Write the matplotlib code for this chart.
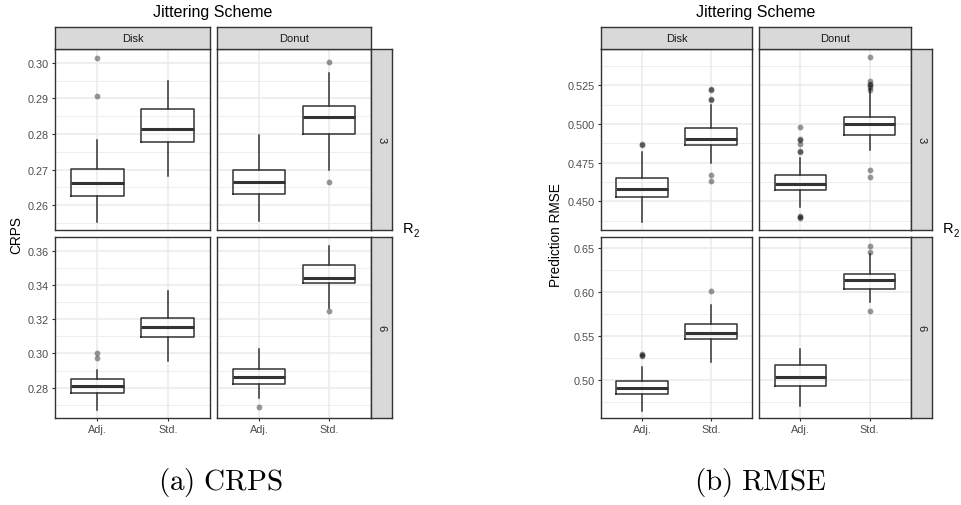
import matplotlib
matplotlib.use("Agg")
import matplotlib.pyplot as plt

plt.rcParams['font.family'] = ['Liberation Sans', 'DejaVu Sans']
plt.rcParams['mathtext.fontset'] = 'cm'

W, H = 962, 506

schemes = ["Disk", "Donut"]
r2_levels = ["3", "6"]
methods = ["Adj.", "Std."]

# box summaries: (whislo, q1, med, q3, whishi)
crps_stats = {
    ("3", "Disk"): [(0.2553, 0.2626, 0.2661, 0.2701, 0.2784), (0.2682, 0.2777, 0.2813, 0.2870, 0.2949)],
    ("3", "Donut"): [(0.2556, 0.2630, 0.2666, 0.2700, 0.2797), (0.2700, 0.2800, 0.2848, 0.2880, 0.2972)],
    ("6", "Disk"): [(0.2668, 0.2769, 0.2810, 0.2851, 0.2903), (0.2957, 0.3095, 0.3154, 0.3207, 0.3366)],
    ("6", "Donut"): [(0.2740, 0.2821, 0.2864, 0.2907, 0.3026), (0.3265, 0.3413, 0.3442, 0.3514, 0.3629)],
}
crps_fliers = {
    ("3", "Disk"): [[0.3014, 0.2907], []],
    ("3", "Donut"): [[], [0.3003, 0.2666]],
    ("6", "Disk"): [[0.3000, 0.2973], []],
    ("6", "Donut"): [[0.2689], [0.3250]],
}
rmse_stats = {
    ("3", "Disk"): [(0.4368, 0.4528, 0.4578, 0.4652, 0.4819), (0.4745, 0.4862, 0.4905, 0.4975, 0.5122)],
    ("3", "Donut"): [(0.4461, 0.4572, 0.4613, 0.4669, 0.4780), (0.4830, 0.4929, 0.5001, 0.5044, 0.5226)],
    ("6", "Disk"): [(0.4647, 0.4837, 0.4901, 0.4981, 0.5141), (0.5198, 0.5463, 0.5532, 0.5634, 0.5851)],
    ("6", "Donut"): [(0.4704, 0.4928, 0.5034, 0.5163, 0.5349), (0.5881, 0.6037, 0.6139, 0.6200, 0.6432)],
}
rmse_fliers = {
    ("3", "Disk"): [[0.4873, 0.4862], [0.5226, 0.5222, 0.5165, 0.5155, 0.4667, 0.4630]],
    ("3", "Donut"): [[0.4981, 0.4905, 0.4900, 0.4873, 0.4825, 0.4822, 0.4407, 0.4398, 0.4389],
                     [0.5434, 0.5278, 0.5257, 0.5250, 0.5241, 0.5220, 0.4700, 0.4660]],
    ("6", "Disk"): [[0.5292, 0.5285, 0.5266], [0.6014]],
    ("6", "Donut"): [[], [0.6527, 0.6458, 0.5786]],
}

crps_ylim = {"3": (0.2530, 0.3039), "6": (0.2623, 0.3680)}
crps_ticks = {"3": [0.26, 0.27, 0.28, 0.29, 0.30], "6": [0.28, 0.30, 0.32, 0.34, 0.36]}
crps_fmt = {"3": "{:.2f}", "6": "{:.2f}"}
rmse_ylim = {"3": (0.4314, 0.5486), "6": (0.4563, 0.6625)}
rmse_ticks = {"3": [0.450, 0.475, 0.500, 0.525], "6": [0.50, 0.55, 0.60, 0.65]}
rmse_fmt = {"3": "{:.3f}", "6": "{:.2f}"}

fig = plt.figure(figsize=(W / 100, H / 100), dpi=100)

def rect(x0, y0, x1, y1):
    return [x0 / W, 1 - y1 / H, (x1 - x0) / W, (y1 - y0) / H]

dark = '#333333'
strip_fill = '#D9D9D9'
grid_c = '#EBEBEB'


def strip_axes(r, label, rot):
    sx = fig.add_axes(r)
    sx.set_facecolor(strip_fill)
    sx.set_xticks([])
    sx.set_yticks([])
    for sp in sx.spines.values():
        sp.set_color(dark)
        sp.set_linewidth(1.0)
    sx.text(0.5, 0.5, label, ha='center', va='center', rotation=rot, fontsize=8,
            color='#1A1A1A', transform=sx.transAxes)


def facet(x_cols, stats, fliers, ylims, ticks, fmts, ylabel, ylabel_x, caption, cap_x):
    rows = [(50, 231), (238, 419)]
    for ri, r2 in enumerate(r2_levels):
        y0, y1 = rows[ri]
        for ci, sch in enumerate(schemes):
            x0, x1 = x_cols[ci]
            ax = fig.add_axes(rect(x0, y0, x1, y1))
            lo, hi = ylims[r2]
            ax.set_xlim(0.4, 2.6)
            ax.set_ylim(lo, hi)
            tk = ticks[r2]
            step = tk[1] - tk[0]
            minor = [t - step / 2 for t in tk] + [tk[-1] + step / 2]
            for m in minor:
                if lo < m < hi:
                    ax.axhline(m, color=grid_c, lw=0.6, zorder=0)
            for t in tk:
                ax.axhline(t, color=grid_c, lw=1.1, zorder=0)
            for xp in [1, 2]:
                ax.axvline(xp, color=grid_c, lw=1.1, zorder=0)
            bx = []
            for k, s in enumerate(stats[(r2, sch)]):
                bx.append(dict(whislo=s[0], q1=s[1], med=s[2], q3=s[3], whishi=s[4],
                               fliers=fliers[(r2, sch)][k]))
            ax.bxp(bx, positions=[1, 2], widths=0.75, showcaps=False,
                   boxprops=dict(color=dark, lw=1.1),
                   whiskerprops=dict(color=dark, lw=1.1),
                   medianprops=dict(color=dark, lw=2.2),
                   flierprops=dict(marker='o', markersize=4.2, markerfacecolor='black',
                                   markeredgecolor='none', alpha=0.4),
                   zorder=3)
            for sp in ax.spines.values():
                sp.set_color(dark)
                sp.set_linewidth(1.0)
            ax.tick_params(length=2.5, width=0.8, color=dark, labelsize=7.8,
                           labelcolor='#4D4D4D', pad=2)
            if ri == 1:
                ax.set_xticks([1, 2])
                ax.set_xticklabels(methods)
            else:
                ax.set_xticks([])
            if ci == 0:
                ax.set_yticks(tk)
                ax.set_yticklabels([fmts[r2].format(t) for t in tk])
            else:
                ax.set_yticks([])
            if ri == 0:
                strip_axes(rect(x0, 28, x1, 50), sch, 0)
        sx0 = x_cols[1][1]
        strip_axes(rect(sx0, y0, sx0 + 21, y1), r2, -90)

    xc = (x_cols[0][0] + x_cols[1][1]) / 2
    fig.text(xc / W, 1 - 13 / H, "Jittering Scheme", ha='center', va='center', fontsize=11.5)
    fig.text(ylabel_x / W, 1 - 235 / H, ylabel, ha='center', va='center', rotation=90, fontsize=9.8)
    rx = x_cols[1][1] + 32
    fig.text(rx / W, 1 - 229 / H, "R", ha='left', va='center', fontsize=10.5)
    fig.text((rx + 10.5) / W, 1 - 234 / H, "2", ha='left', va='center', fontsize=7)
    fig.text(cap_x / W, 1 - 483 / H, caption, ha='center', va='center', fontsize=21)


facet([(55, 210), (217, 371)], crps_stats, crps_fliers, crps_ylim, crps_ticks, crps_fmt,
      "CRPS", 16, r"$\mathrm{(a)\ CRPS}$", 220)
facet([(601, 752), (759, 911)], rmse_stats, rmse_fliers, rmse_ylim, rmse_ticks, rmse_fmt,
      "Prediction RMSE", 556, r"$\mathrm{(b)\ RMSE}$", 760)

fig.savefig("out.png", dpi=100, facecolor='white')
